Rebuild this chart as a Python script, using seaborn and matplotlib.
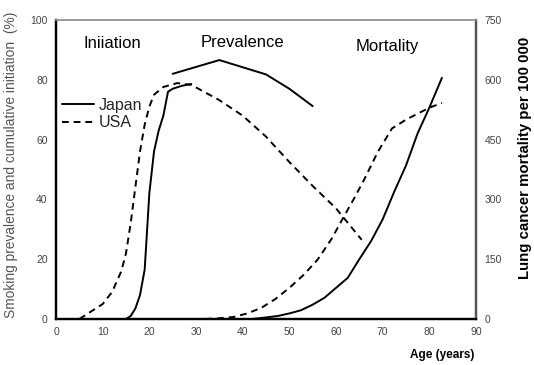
import matplotlib
matplotlib.use("Agg")
import matplotlib.pyplot as plt
import seaborn as sns
import pandas as pd

sns.set_theme(style="white")
plt.rcParams['font.family'] = ['Liberation Sans', 'DejaVu Sans']

# Initiation (cumulative %)
jp_init_age = [15, 16, 17, 18, 19, 20, 21, 22, 23, 24, 25, 27, 29]
jp_init_val = [0, 1, 3.5, 8, 16.5, 42, 56, 63, 68, 76, 77, 78, 78.6]
# USA initiation + prevalence (one dashed line)
us_prev_age = [5, 7, 10, 12, 14, 15, 16, 17, 18, 19, 20, 21, 23, 26, 29, 35, 40, 45, 50, 55, 60, 65.5]
us_prev_val = [0, 2, 5, 9, 16, 22, 32, 44, 56, 65, 71, 75, 77.6, 78.9, 78.3, 73.2, 68, 61, 52.5, 44.5, 37, 26.5]
# Japan prevalence
jp_prev_age = [25, 35, 45, 50, 55]
jp_prev_val = [82, 86.6, 81.8, 77, 71.2]
# Mortality per 100 000
jp_mort_age = [42, 45, 47.5, 50, 52.5, 55, 57.5, 60, 62.5, 65, 67.5, 70, 72.5, 75, 77.5, 80, 82.7]
jp_mort_val = [0, 4, 7.5, 14, 22, 36, 53, 78, 103, 150, 195, 250, 320, 385, 466, 530, 605]
us_mort_age = [32, 35, 38, 41, 44, 47, 50, 53, 56, 59, 61.5, 64, 66, 69, 72, 75, 77.5, 80, 82.7]
us_mort_val = [0, 2, 5, 14, 28, 50, 78, 110, 148, 200, 253, 305, 349, 420, 478, 500, 515, 530, 542]

fig = plt.figure(figsize=(5.34, 3.65), dpi=100)
ax = fig.add_axes([56/534, 1-319/365, (476-56)/534, (319-20)/365])
ax2 = ax.twinx()

kw = dict(color='black', linewidth=1.4)
dash = (0, (3.5, 2.5))
sns.lineplot(x=jp_init_age, y=jp_init_val, ax=ax, label='Japan', **kw)
sns.lineplot(x=us_prev_age, y=us_prev_val, ax=ax, label='USA', linestyle=dash, **kw)
sns.lineplot(x=jp_prev_age, y=jp_prev_val, ax=ax, **kw)
sns.lineplot(x=jp_mort_age, y=jp_mort_val, ax=ax2, **kw)
sns.lineplot(x=us_mort_age, y=us_mort_val, ax=ax2, linestyle=dash, **kw)

ax.set_xlim(0, 90)
ax.set_ylim(0, 100)
ax2.set_ylim(0, 750)
ax.set_xticks(range(0, 91, 10))
ax.set_yticks(range(0, 101, 20))
ax2.set_yticks(range(0, 751, 150))

tc = '#444444'
ax.tick_params(axis='x', direction='in', length=3, colors='black', labelcolor=tc, labelsize=7.5, pad=6)
ax.tick_params(axis='y', direction='in', length=0, labelcolor=tc, labelsize=7.5, pad=6)
ax2.tick_params(axis='y', direction='in', length=0, labelcolor=tc, labelsize=7.5, pad=6)

for a in (ax, ax2):
    a.spines['left'].set_color('black')
    a.spines['left'].set_linewidth(1.6)
    a.spines['bottom'].set_color('black')
    a.spines['bottom'].set_linewidth(1.6)
    a.spines['top'].set_color('#999999')
    a.spines['top'].set_linewidth(1.2)
    a.spines['right'].set_color('#555555')
    a.spines['right'].set_linewidth(1.6)

ax.set_xlabel('')
ax.set_ylabel('Smoking prevalence and cumulative initiation  (%)', color='#555555', fontsize=9.9)
ax.yaxis.set_label_coords((18-56)/420, 0.515)
ax2.set_ylabel('Lung cancer mortality per 100 000', color='black', fontsize=10.8, fontweight='bold')
ax2.yaxis.set_label_coords((518-56)/420, 0.54)
fig.text(442/534, 1-355/365, 'Age (years)', ha='center', va='center', fontsize=8.5, fontweight='bold', color='black')

ax.text(12, 92, 'Iniiation', fontsize=12, ha='center', va='center', color='black')
ax.text(40, 92.6, 'Prevalence', fontsize=12, ha='center', va='center', color='black')
ax.text(71, 91, 'Mortality', fontsize=12, ha='center', va='center', color='black')

leg = ax.legend(loc='upper left', bbox_to_anchor=((62-56)/420, (319-98)/299), frameon=False, fontsize=11.5,
                handlelength=2.0, handletextpad=0.3, labelspacing=0.15, borderaxespad=0, borderpad=0)
ax2.grid(False)
ax.grid(False)

fig.savefig('out.png', dpi=100)
